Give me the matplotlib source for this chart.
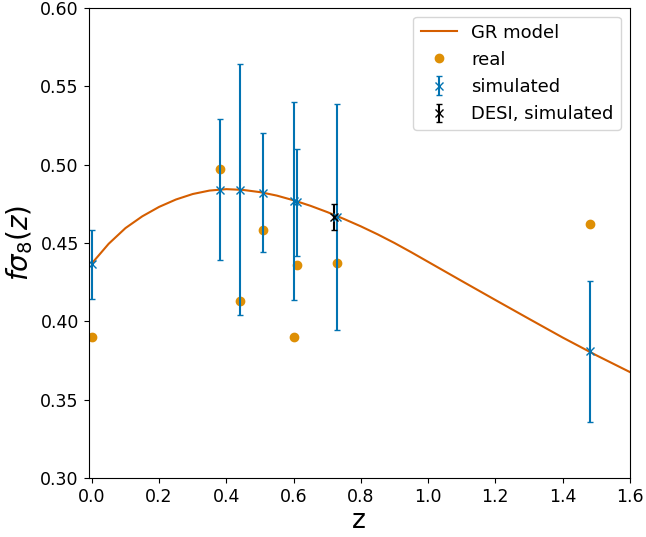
import matplotlib
matplotlib.use("Agg")
import matplotlib.pyplot as plt

# GR model curve
z_model = [0.0, 0.05, 0.1, 0.15, 0.2, 0.25, 0.3, 0.35, 0.4, 0.45, 0.5, 0.55,
           0.6, 0.65, 0.7, 0.75, 0.8, 0.85, 0.9, 0.95, 1.0, 1.1, 1.2, 1.3,
           1.4, 1.5, 1.6]
fs8_model = [0.437, 0.4495, 0.4595, 0.4670, 0.4730, 0.4777, 0.4812, 0.4834,
             0.4843, 0.4838, 0.4824, 0.4802, 0.4772, 0.4737, 0.4697, 0.4653,
             0.4606, 0.4555, 0.4500, 0.4441, 0.4380, 0.4258, 0.4137, 0.4017,
             0.3898, 0.3785, 0.3678]

# real measurements
z_real = [0.0, 0.38, 0.44, 0.51, 0.60, 0.61, 0.73, 1.48]
fs8_real = [0.390, 0.497, 0.413, 0.458, 0.390, 0.436, 0.437, 0.462]

# simulated points
z_sim = [0.0, 0.38, 0.44, 0.51, 0.60, 0.61, 0.73, 1.48]
fs8_sim = [0.4365, 0.484, 0.484, 0.482, 0.4765, 0.476, 0.4665, 0.381]
err_sim = [0.022, 0.045, 0.080, 0.038, 0.063, 0.034, 0.072, 0.045]

# DESI simulated point
z_desi = [0.72]
fs8_desi = [0.4665]
err_desi = [0.0085]

fig, ax = plt.subplots(figsize=(6.46, 5.37), dpi=100)
fig.subplots_adjust(left=0.137, right=0.975, bottom=0.109, top=0.986)

ax.plot(z_model, fs8_model, color="#d55e00", lw=1.5, label="GR model")
ax.plot(z_real, fs8_real, "o", color="#de8f05", ms=6, label="real")
ax.errorbar(z_sim, fs8_sim, yerr=err_sim, fmt="x", color="#0173b2",
            ms=6, capsize=2, elinewidth=1.5, label="simulated")
ax.errorbar(z_desi, fs8_desi, yerr=err_desi, fmt="x", color="black",
            ms=6, capsize=2, elinewidth=1.5, label="DESI, simulated")

ax.set_xlim(-0.01, 1.6)
ax.set_ylim(0.3, 0.6)
ax.set_xlabel("z", fontsize=19, labelpad=1)
ax.set_ylabel(r"$f\sigma_8(z)$", fontsize=20)
ax.tick_params(labelsize=12.5)
ax.legend(loc="upper right", fontsize=13)

fig.savefig("out.png", dpi=100)
